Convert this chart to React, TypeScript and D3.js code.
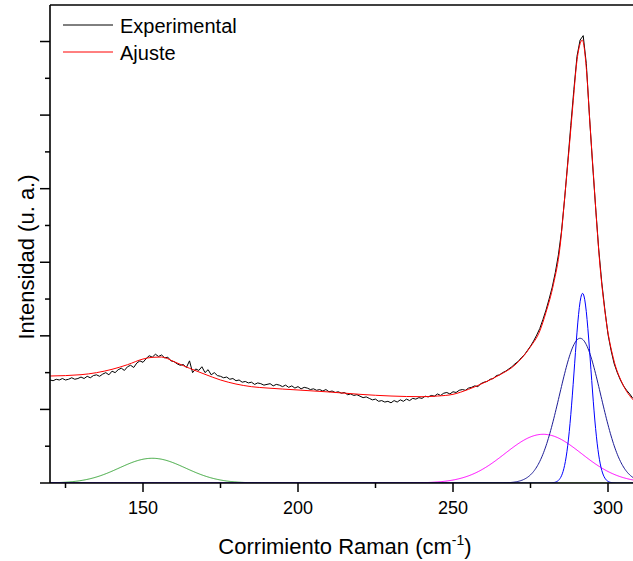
import React from "react";
import * as d3 from "d3";

// Raman shift (cm^-1) of the experimental trace
const expX: number[] = d3.range(120, 309, 1);
// Experimental intensity (a.u., one major tick = 1)
const expY: number[] = [
  1.40, 1.39, 1.41, 1.40, 1.42, 1.40, 1.41, 1.43, 1.41, 1.42,
  1.44, 1.42, 1.45, 1.43, 1.46, 1.47, 1.45, 1.48, 1.50, 1.47,
  1.52, 1.50, 1.54, 1.56, 1.53, 1.58, 1.60, 1.57, 1.63, 1.66,
  1.64, 1.69, 1.73, 1.71, 1.75, 1.72, 1.74, 1.70, 1.71, 1.66,
  1.65, 1.62, 1.60, 1.61, 1.57, 1.66, 1.50, 1.55, 1.53, 1.58,
  1.50, 1.54, 1.47, 1.50, 1.46, 1.45, 1.43, 1.44, 1.41, 1.42,
  1.39, 1.40, 1.37, 1.38, 1.36, 1.37, 1.34, 1.36, 1.35, 1.33,
  1.34, 1.35, 1.32, 1.34, 1.33, 1.31, 1.33, 1.30, 1.32, 1.29,
  1.31, 1.28, 1.30, 1.29, 1.27, 1.28, 1.26, 1.27, 1.25, 1.27,
  1.24, 1.25, 1.23, 1.24, 1.22, 1.23, 1.20, 1.21, 1.19, 1.20,
  1.18, 1.16, 1.17, 1.15, 1.13, 1.14, 1.11, 1.12, 1.10, 1.11,
  1.09, 1.12, 1.10, 1.13, 1.11, 1.14, 1.12, 1.15, 1.14, 1.16,
  1.15, 1.18, 1.17, 1.19, 1.18, 1.21, 1.19, 1.22, 1.23, 1.21,
  1.24, 1.23, 1.26, 1.27, 1.26, 1.29, 1.30, 1.32, 1.31, 1.35,
  1.37, 1.38, 1.41, 1.42, 1.46, 1.47, 1.50, 1.52, 1.55, 1.58,
  1.62, 1.65, 1.70, 1.74, 1.80, 1.86, 1.93, 2.01, 2.10, 2.22,
  2.35, 2.50, 2.66, 2.86, 3.10, 3.42, 3.86, 4.35, 4.86, 5.35,
  5.80, 6.02, 6.08, 5.70, 5.00, 4.35, 3.75, 3.18, 2.72, 2.35,
  2.02, 1.80, 1.62, 1.50, 1.40, 1.32, 1.26, 1.21, 1.15,
];

// Fit curve ("Ajuste")
const fitX: number[] = [
  120, 130, 140, 145, 150, 153, 156, 160, 165, 170, 175, 180, 185, 190, 200,
  210, 220, 230, 240, 245, 250, 255, 260, 265, 270, 275, 278, 280, 282.4,
  284.5, 286.1, 287.7, 288.8, 289.9, 291, 291.7, 293.1, 294.2, 295.3, 296.4,
  297.4, 298.5, 299.6, 301.7, 304.9, 308.1,
];
const fitY: number[] = [
  1.454, 1.472, 1.545, 1.608, 1.685, 1.708, 1.712, 1.649, 1.559, 1.477, 1.40,
  1.345, 1.309, 1.291, 1.264, 1.237, 1.205, 1.182, 1.173, 1.182, 1.205, 1.273,
  1.363, 1.468, 1.604, 1.852, 2.066, 2.32, 2.70, 3.20, 3.91, 4.66, 5.20, 5.71,
  5.97, 6.02, 5.59, 4.87, 4.19, 3.51, 2.96, 2.51, 2.15, 1.70, 1.33, 1.13,
];

// Gaussian components of the fit
const compCenter: number[] = [153, 279.1, 291.0, 291.8];
const compHeight: number[] = [0.336, 0.662, 1.967, 2.578];
const compSigma: number[] = [10.7, 12.3, 6.67, 2.66];
const compColor: string[] = ["#3aa63a", "#ff00ff", "#1c1c96", "#0000ff"];

const xMajor: number[] = [150, 200, 250, 300];
const xMinor: number[] = [125, 175, 225, 275];
const yMajor: number[] = [0, 1, 2, 3, 4, 5, 6];
const yMinor: number[] = [0.5, 1.5, 2.5, 3.5, 4.5, 5.5];

const legendLabels: string[] = ["Experimental", "Ajuste"];
const legendColors: string[] = ["#000000", "#ff0000"];

const W = 633;
const H = 561;
const L = 50;
const T = 5;
const B = 483;
const R = 639;
const FONT = "Arial, 'Liberation Sans', sans-serif";

export default function App() {
  const x = d3.scaleLinear().domain([120, 310]).range([L, R]);
  const y = d3.scaleLinear().domain([0, 6.5]).range([B, B - 6.5 * 73.58]);

  const lineXY = d3
    .line<[number, number]>()
    .x((d) => x(d[0]))
    .y((d) => y(d[1]));
  const expPath = lineXY(expX.map((v, i) => [v, expY[i]]) as [number, number][]);
  const fitPath = d3
    .line<[number, number]>()
    .x((d) => x(d[0]))
    .y((d) => y(d[1]))
    .curve(d3.curveMonotoneX)(fitX.map((v, i) => [v, fitY[i]]) as [number, number][]);

  const grid = d3.range(120, 310.01, 0.25);
  const compPaths = compCenter.map((c, k) =>
    lineXY(
      grid.map((g) => [
        g,
        compHeight[k] * Math.exp(-0.5 * ((g - c) / compSigma[k]) ** 2),
      ]) as [number, number][]
    )
  );

  return (
    <svg
      width={W}
      height={H}
      style={{ position: "absolute", left: 0, top: 0, display: "block", background: "#fff" }}
    >
      <defs>
        <clipPath id="plot">
          <rect x={L} y={T} width={R - L} height={B - T} />
        </clipPath>
      </defs>
      <rect x={0} y={0} width={W} height={H} fill="#fff" />
      <g clipPath="url(#plot)" fill="none">
        {compPaths.map((p, k) => (
          <path key={k} d={p || ""} stroke={compColor[k]} strokeWidth={1} />
        ))}
        <path d={expPath || ""} stroke="#000" strokeWidth={1} />
        <path d={fitPath || ""} stroke="#ff0000" strokeWidth={1} />
      </g>
      {/* frame */}
      <line x1={L} x2={W} y1={T} y2={T} stroke="#000" strokeWidth={1.6} />
      <line x1={L} x2={L} y1={T} y2={B} stroke="#000" strokeWidth={1.6} />
      <line x1={L} x2={W} y1={B} y2={B} stroke="#000" strokeWidth={1.6} />
      {/* y ticks */}
      {yMajor.map((v) => (
        <line key={"ym" + v} x1={L - 10} x2={L} y1={y(v)} y2={y(v)} stroke="#000" strokeWidth={1.5} />
      ))}
      {yMinor.map((v) => (
        <line key={"yn" + v} x1={L - 5} x2={L} y1={y(v)} y2={y(v)} stroke="#000" strokeWidth={1.5} />
      ))}
      {/* x ticks */}
      {xMajor.map((v) => (
        <g key={"xm" + v}>
          <line x1={x(v)} x2={x(v)} y1={B} y2={B + 9} stroke="#000" strokeWidth={1.5} />
          <text x={x(v)} y={514} textAnchor="middle" fontFamily={FONT} fontSize={18} fill="#000">
            {v}
          </text>
        </g>
      ))}
      {xMinor.map((v) => (
        <line key={"xn" + v} x1={x(v)} x2={x(v)} y1={B} y2={B + 5} stroke="#000" strokeWidth={1.5} />
      ))}
      {/* axis titles */}
      <text x={345} y={554} textAnchor="middle" fontFamily={FONT} fontSize={22} fill="#000">
        Corrimiento Raman (cm
        <tspan fontSize={14} dy={-9}>-1</tspan>
        <tspan dy={9}>)</tspan>
      </text>
      <text
        transform="translate(34,257) rotate(-90)"
        textAnchor="middle"
        fontFamily={FONT}
        fontSize={22}
        fill="#000"
      >
        Intensidad (u. a.)
      </text>
      {/* legend */}
      {legendLabels.map((lab, i) => (
        <g key={lab}>
          <line x1={63} x2={113} y1={25 + i * 27} y2={25 + i * 27} stroke={legendColors[i]} strokeWidth={1} />
          <text x={120} y={33 + i * 27} fontFamily={FONT} fontSize={20} fill="#000">
            {lab}
          </text>
        </g>
      ))}
    </svg>
  );
}
